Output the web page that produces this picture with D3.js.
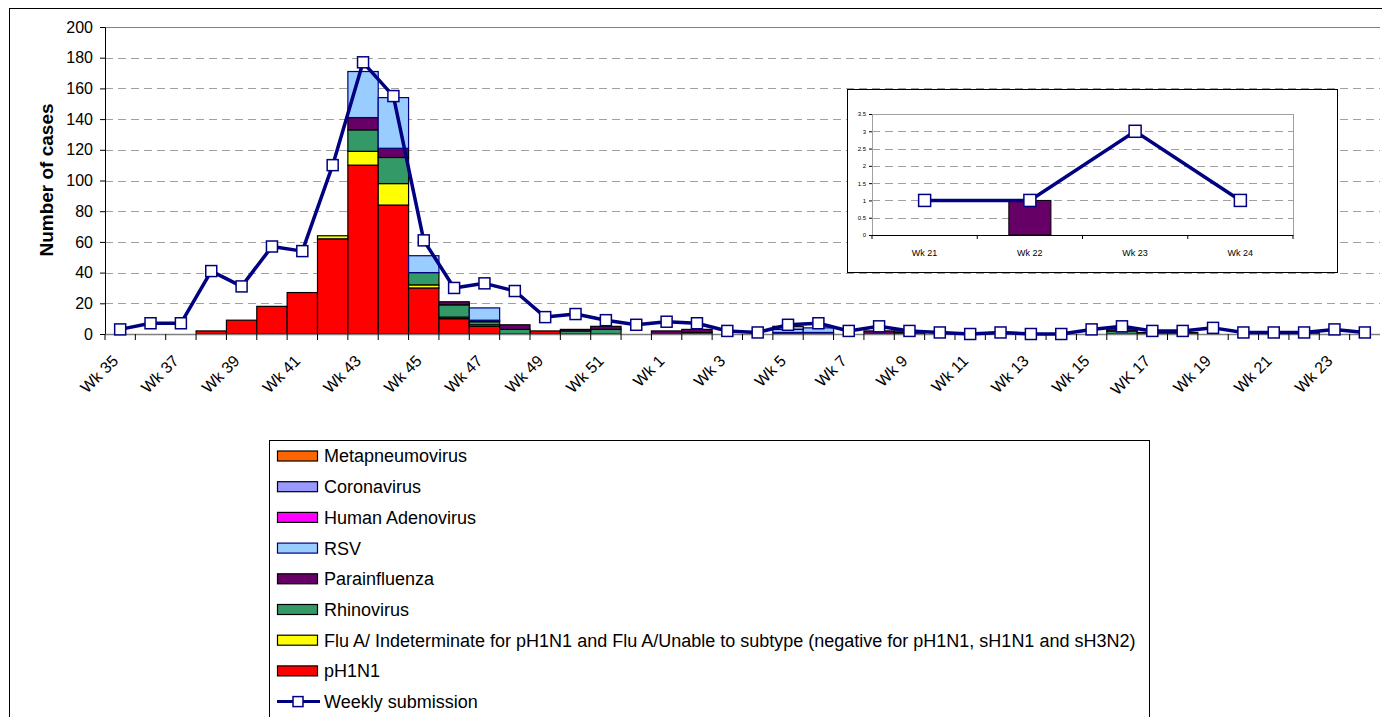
<!DOCTYPE html>
<html>
<head>
<meta charset="utf-8">
<script src="https://cdn.jsdelivr.net/npm/d3@7"></script>
<style>
  body { margin: 0; background: #fff; }
  svg { display: block; font-family: "Liberation Sans", Arial, sans-serif; }
</style>
</head>
<body>
<svg id="chart" width="1382" height="717"></svg>
<script>
// weekly categories, Wk 35 of one year through Wk 24 of the next
const weeks = [
  "Wk 35","Wk 36","Wk 37","Wk 38","Wk 39","Wk 40","Wk 41","Wk 42","Wk 43","Wk 44",
  "Wk 45","Wk 46","Wk 47","Wk 48","Wk 49","Wk 50","Wk 51","Wk 52","Wk 1","Wk 2",
  "Wk 3","Wk 4","Wk 5","Wk 6","Wk 7","Wk 8","Wk 9","Wk 10","Wk 11","Wk 12",
  "Wk 13","Wk 14","Wk 15","Wk 16","WK 17","Wk 18","Wk 19","Wk 20","Wk 21","Wk 22",
  "Wk 23","Wk 24"
];

// stacked series (bottom to top)
const pH1N1 =          [0,0,0,2,9,18,27,62,110,84,30,10,5,0,2,0,0,0,0,0, 0,0,0,0,0,0,0,0,0,0, 0,0,0,0,0,0,0,0,0,0, 0,0];
const fluA =           [0,0,0,0,0,0,0,2,9,14,2,1,1,0,0,0,0,0,0,0, 0,0,0,0,0,0,0,0,0,0, 0,0,0,0,0,0,0,0,0,0, 0,0];
const rhinovirus =     [0,0,0,0,0,0,0,0,14,17,8,8,2,3,0,2,3,0,0,1, 0,0,0,1,0,0,0,0,0,0, 0,0,0,2,0,0,0,0,0,0, 0,0];
const parainfluenza =  [0,0,0,0,0,0,0,0,8,6,0,2,1,3,0,1,2,0,2,2, 0,0,1,0,0,2,1,0,0,0, 0,0,0,2,1,1,0,0,0,1, 0,0];
const rsv =            [0,0,0,0,0,0,0,0,30,33,11,0,8,0,0,0,0,0,0,0, 0,0,2,3,0,0,0,0,0,0, 0,0,0,0,0,0,0,0,0,0, 0,0];
const adenovirus =     [0,0,0,0,0,0,0,0,0,0,0,0,0,0,0,0,0,0,0,0, 0,0,0,0,0,0,0,0,0,0, 0,0,0,0,0,0,0,0,0,0, 0,0];
const coronavirus =    [0,0,0,0,0,0,0,0,0,0,0,0,0,0,0,0,0,0,0,0, 0,0,2,0,0,0,0,0,0,0, 0,0,0,0,0,0,0,0,0,0, 0,0];
const metapneumovirus =[0,0,0,0,0,0,0,0,0,0,0,0,0,0,0,0,0,0,0,0, 0,0,0,0,0,0,1,0,0,0, 0,0,0,0,0,0,0,0,0,0, 0,0];

// line series
const weeklySubmission = [3,7,7,41,31,57,54,110,177,155,61,30,33,28,11,13,9,6,8,7,
                          2,1,6,7,2,5,2,1,0,1,0,0,3,5,2,2,4,1,1,1,3,1];

const yTicks = [0,20,40,60,80,100,120,140,160,180,200];

// inset: last four weeks
const insetWeeks = ["Wk 21","Wk 22","Wk 23","Wk 24"];
const insetParainfluenza = [0,1,0,0];
const insetSubmission = [1,1,3,1];
const insetTicks = [0,0.5,1,1.5,2,2.5,3,3.5];

const seriesNames = ["pH1N1","Flu A","Rhinovirus","Parainfluenza","RSV","Human Adenovirus","Coronavirus","Metapneumovirus"];
const seriesData = [pH1N1, fluA, rhinovirus, parainfluenza, rsv, adenovirus, coronavirus, metapneumovirus];
const seriesColors = ["#ff0000","#ffff00","#339966","#660066","#99ccff","#ff00ff","#9999ff","#ff6600"];
const seriesStroke = ["#000","#000","#000","#000","#000080","#000","#000","#000"];
const legendLabels = [
  "Metapneumovirus","Coronavirus","Human Adenovirus","RSV","Parainfluenza","Rhinovirus",
  "Flu A/ Indeterminate for pH1N1 and Flu A/Unable to subtype (negative for pH1N1, sH1N1 and sH3N2)",
  "pH1N1"
];

const svg = d3.select("#chart");
const navy = "#000080";

// outer chart border
svg.append("rect")
  .attr("x", 9.5).attr("y", 8.5).attr("width", 1400).attr("height", 800)
  .attr("fill", "none").attr("stroke", "#000").attr("stroke-width", 1);

const x = d3.scaleBand().domain(weeks).range([105, 1380]).padding(0);
const y = d3.scaleLinear().domain([0, 200]).range([334, 27]);

// gridlines
svg.append("g").selectAll("line")
  .data(yTicks.filter(d => d > 0))
  .join("line")
  .attr("x1", 105).attr("x2", 1380)
  .attr("y1", d => Math.round(y(d)) + 0.5).attr("y2", d => Math.round(y(d)) + 0.5)
  .attr("stroke", d => d === 200 ? "#808080" : "#a0a0a0")
  .attr("stroke-dasharray", d => d === 200 ? null : "8,5");

// stacked bars
const table = weeks.map((w, i) => {
  const row = { week: w };
  seriesNames.forEach((s, j) => row[s] = seriesData[j][i]);
  return row;
});
const stacked = d3.stack().keys(seriesNames)(table);

svg.append("g").selectAll("g")
  .data(stacked)
  .join("g")
  .attr("fill", (d, i) => seriesColors[i])
  .attr("stroke", (d, i) => seriesStroke[i])
  .attr("stroke-width", 1.2)
  .selectAll("rect")
  .data(d => d.filter(p => p[1] > p[0]))
  .join("rect")
  .attr("x", d => x(d.data.week))
  .attr("width", x.bandwidth())
  .attr("y", d => y(d[1]))
  .attr("height", d => y(d[0]) - y(d[1]));

// y axis
const yAxis = svg.append("g")
  .attr("transform", "translate(105,0)")
  .call(d3.axisLeft(y).tickValues(yTicks).tickSize(5).tickPadding(7));
yAxis.select(".domain").attr("stroke", "#000");
yAxis.selectAll("text").style("font-size", "16px").attr("fill", "#000");

svg.append("text")
  .attr("transform", "translate(53,180) rotate(-90)")
  .attr("text-anchor", "middle")
  .style("font-size", "19px")
  .style("font-weight", "bold")
  .text("Number of cases");

// x axis: line, ticks at band edges, every second label
svg.append("line")
  .attr("x1", 105).attr("x2", 1380).attr("y1", 334.5).attr("y2", 334.5)
  .attr("stroke", "#808080").attr("stroke-width", 1.5);
svg.append("g").selectAll("line")
  .data(weeks)
  .join("line")
  .attr("x1", d => x(d)).attr("x2", d => x(d))
  .attr("y1", 334).attr("y2", 340)
  .attr("stroke", "#000");
svg.append("g").selectAll("text")
  .data(weeks.filter((d, i) => i % 2 === 0))
  .join("text")
  .attr("transform", d => `translate(${x(d) + x.bandwidth() / 2 - 1},362) rotate(-45)`)
  .attr("text-anchor", "end")
  .style("font-size", "16px")
  .text(d => d);

// weekly submission line
const line = d3.line()
  .x((d, i) => x(weeks[i]) + x.bandwidth() / 2)
  .y(d => y(d));
svg.append("path")
  .datum(weeklySubmission)
  .attr("d", line)
  .attr("fill", "none")
  .attr("stroke", navy)
  .attr("stroke-width", 3.5)
  .attr("stroke-linejoin", "round");
svg.append("g").selectAll("rect")
  .data(weeklySubmission)
  .join("rect")
  .attr("x", (d, i) => x(weeks[i]) + x.bandwidth() / 2 - 5.5)
  .attr("y", d => y(d) - 5.5)
  .attr("width", 11).attr("height", 11)
  .attr("fill", "#fff").attr("stroke", navy).attr("stroke-width", 1.5);

// ---- inset chart ----
const inset = svg.append("g");
inset.append("rect")
  .attr("x", 847.5).attr("y", 89.5).attr("width", 490).attr("height", 183)
  .attr("fill", "#fff").attr("stroke", "#000");

const ix = d3.scaleBand().domain(insetWeeks).range([872, 1293]);
const iy = d3.scaleLinear().domain([0, 3.5]).range([235, 114]);

inset.append("g").selectAll("line")
  .data(insetTicks.filter(d => d > 0 && d < 3.5))
  .join("line")
  .attr("x1", 872).attr("x2", 1293)
  .attr("y1", d => Math.round(iy(d)) + 0.5).attr("y2", d => Math.round(iy(d)) + 0.5)
  .attr("stroke", "#a0a0a0").attr("stroke-dasharray", "8,5");
inset.append("rect")
  .attr("x", 872.5).attr("y", 114.5).attr("width", 421).attr("height", 121)
  .attr("fill", "none").attr("stroke", "#a0a0a0");

inset.append("g").selectAll("rect")
  .data(insetParainfluenza.map((v, i) => ({ w: insetWeeks[i], v })).filter(d => d.v > 0))
  .join("rect")
  .attr("x", d => ix(d.w) + ix.bandwidth() * 0.3)
  .attr("width", ix.bandwidth() * 0.4)
  .attr("y", d => iy(d.v))
  .attr("height", d => iy(0) - iy(d.v))
  .attr("fill", "#660066").attr("stroke", "#000");

const iyAxis = inset.append("g")
  .attr("transform", "translate(872,0)")
  .call(d3.axisLeft(iy).tickValues(insetTicks).tickSize(3).tickPadding(3).tickFormat(d3.format("")));
iyAxis.select(".domain").remove();
iyAxis.selectAll("text").style("font-size", "6px").attr("fill", "#000");

inset.append("line")
  .attr("x1", 872).attr("x2", 1293).attr("y1", 235.5).attr("y2", 235.5)
  .attr("stroke", "#000");
inset.append("g").selectAll("line")
  .data(insetWeeks.concat(["end"]))
  .join("line")
  .attr("x1", (d, i) => 872 + i * ix.bandwidth()).attr("x2", (d, i) => 872 + i * ix.bandwidth())
  .attr("y1", 235).attr("y2", 239)
  .attr("stroke", "#000");
inset.append("g").selectAll("text")
  .data(insetWeeks)
  .join("text")
  .attr("x", d => ix(d) + ix.bandwidth() / 2)
  .attr("y", 256)
  .attr("text-anchor", "middle")
  .style("font-size", "9px")
  .text(d => d);

inset.append("path")
  .datum(insetSubmission)
  .attr("d", d3.line().x((d, i) => ix(insetWeeks[i]) + ix.bandwidth() / 2).y(d => iy(d)))
  .attr("fill", "none").attr("stroke", navy).attr("stroke-width", 3.5);
inset.append("g").selectAll("rect")
  .data(insetSubmission)
  .join("rect")
  .attr("x", (d, i) => ix(insetWeeks[i]) + ix.bandwidth() / 2 - 6)
  .attr("y", d => iy(d) - 6)
  .attr("width", 12).attr("height", 12)
  .attr("fill", "#fff").attr("stroke", navy).attr("stroke-width", 1.5);

// ---- legend ----
const legend = svg.append("g");
legend.append("rect")
  .attr("x", 269.5).attr("y", 440.5).attr("width", 880).attr("height", 400)
  .attr("fill", "#fff").attr("stroke", "#000");

const legendColors = seriesColors.slice().reverse();
const legendStrokes = seriesStroke.slice().reverse();
const rowY = i => 456 + i * 30.7;

legend.selectAll("rect.sw")
  .data(legendLabels)
  .join("rect")
  .attr("class", "sw")
  .attr("x", 277.5).attr("y", (d, i) => rowY(i) - 5)
  .attr("width", 40).attr("height", 10)
  .attr("fill", (d, i) => legendColors[i])
  .attr("stroke", (d, i) => legendStrokes[i]).attr("stroke-width", 1.2);
legend.selectAll("text.lb")
  .data(legendLabels.concat(["Weekly submission"]))
  .join("text")
  .attr("class", "lb")
  .attr("x", 324).attr("y", (d, i) => rowY(i))
  .attr("dy", "0.36em")
  .style("font-size", "18px")
  .text(d => d);

const ly = rowY(legendLabels.length);
legend.append("line")
  .attr("x1", 277).attr("x2", 320).attr("y1", ly).attr("y2", ly)
  .attr("stroke", navy).attr("stroke-width", 3);
legend.append("rect")
  .attr("x", 293).attr("y", ly - 5).attr("width", 10).attr("height", 10)
  .attr("fill", "#fff").attr("stroke", navy).attr("stroke-width", 1.5);
</script>
</body>
</html>
